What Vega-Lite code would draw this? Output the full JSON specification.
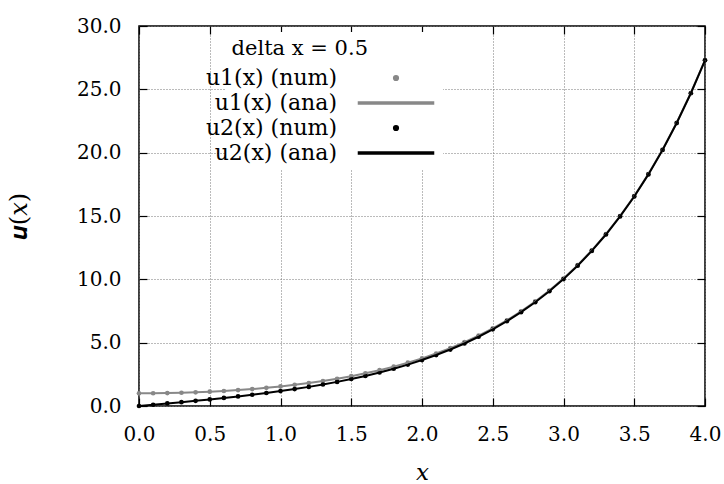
{
  "$schema": "https://vega.github.io/schema/vega-lite/v6.json",
  "width": 566,
  "height": 380,
  "autosize": {"type": "none"},
  "padding": {"left": 139, "top": 26, "right": 19, "bottom": 78},
  "background": "white",
  "config": {
    "view": {"stroke": "black", "strokeWidth": 1.5},
    "font": "DejaVu Serif",
    "axis": {
      "labelFont": "DejaVu Serif",
      "labelFontSize": 20,
      "labelColor": "black",
      "titleFont": "DejaVu Serif",
      "titleFontSize": 23,
      "titleColor": "black",
      "titleFontWeight": "normal",
      "tickColor": "black",
      "tickSize": -8,
      "tickWidth": 1.2,
      "domain": false,
      "gridColor": "#777777",
      "gridDash": [1, 2],
      "gridWidth": 1,
      "gridOpacity": 1
    }
  },
  "data": {
    "values": [
      {"x": 0.0, "u1n": 1.0000, "u1a": 1.0000, "u2n": 0.0000, "u2a": 0.0000},
      {"x": 0.1, "u1n": 1.0050, "u1a": 1.0050, "u2n": 0.1002, "u2a": 0.1002},
      {"x": 0.2, "u1n": 1.0201, "u1a": 1.0201, "u2n": 0.2013, "u2a": 0.2013},
      {"x": 0.3, "u1n": 1.0453, "u1a": 1.0453, "u2n": 0.3045, "u2a": 0.3045},
      {"x": 0.4, "u1n": 1.0811, "u1a": 1.0811, "u2n": 0.4108, "u2a": 0.4108},
      {"x": 0.5, "u1n": 1.1276, "u1a": 1.1276, "u2n": 0.5211, "u2a": 0.5211},
      {"x": 0.6, "u1n": 1.1855, "u1a": 1.1855, "u2n": 0.6367, "u2a": 0.6367},
      {"x": 0.7, "u1n": 1.2552, "u1a": 1.2552, "u2n": 0.7586, "u2a": 0.7586},
      {"x": 0.8, "u1n": 1.3374, "u1a": 1.3374, "u2n": 0.8881, "u2a": 0.8881},
      {"x": 0.9, "u1n": 1.4331, "u1a": 1.4331, "u2n": 1.0265, "u2a": 1.0265},
      {"x": 1.0, "u1n": 1.5431, "u1a": 1.5431, "u2n": 1.1752, "u2a": 1.1752},
      {"x": 1.1, "u1n": 1.6685, "u1a": 1.6685, "u2n": 1.3356, "u2a": 1.3356},
      {"x": 1.2, "u1n": 1.8107, "u1a": 1.8107, "u2n": 1.5095, "u2a": 1.5095},
      {"x": 1.3, "u1n": 1.9709, "u1a": 1.9709, "u2n": 1.6984, "u2a": 1.6984},
      {"x": 1.4, "u1n": 2.1509, "u1a": 2.1509, "u2n": 1.9043, "u2a": 1.9043},
      {"x": 1.5, "u1n": 2.3524, "u1a": 2.3524, "u2n": 2.1293, "u2a": 2.1293},
      {"x": 1.6, "u1n": 2.5775, "u1a": 2.5775, "u2n": 2.3756, "u2a": 2.3756},
      {"x": 1.7, "u1n": 2.8283, "u1a": 2.8283, "u2n": 2.6456, "u2a": 2.6456},
      {"x": 1.8, "u1n": 3.1075, "u1a": 3.1075, "u2n": 2.9422, "u2a": 2.9422},
      {"x": 1.9, "u1n": 3.4177, "u1a": 3.4177, "u2n": 3.2682, "u2a": 3.2682},
      {"x": 2.0, "u1n": 3.7622, "u1a": 3.7622, "u2n": 3.6269, "u2a": 3.6269},
      {"x": 2.1, "u1n": 4.1443, "u1a": 4.1443, "u2n": 4.0219, "u2a": 4.0219},
      {"x": 2.2, "u1n": 4.5679, "u1a": 4.5679, "u2n": 4.4571, "u2a": 4.4571},
      {"x": 2.3, "u1n": 5.0372, "u1a": 5.0372, "u2n": 4.9370, "u2a": 4.9370},
      {"x": 2.4, "u1n": 5.5569, "u1a": 5.5569, "u2n": 5.4662, "u2a": 5.4662},
      {"x": 2.5, "u1n": 6.1323, "u1a": 6.1323, "u2n": 6.0502, "u2a": 6.0502},
      {"x": 2.6, "u1n": 6.7690, "u1a": 6.7690, "u2n": 6.6947, "u2a": 6.6947},
      {"x": 2.7, "u1n": 7.4735, "u1a": 7.4735, "u2n": 7.4063, "u2a": 7.4063},
      {"x": 2.8, "u1n": 8.2527, "u1a": 8.2527, "u2n": 8.1919, "u2a": 8.1919},
      {"x": 2.9, "u1n": 9.1146, "u1a": 9.1146, "u2n": 9.0596, "u2a": 9.0596},
      {"x": 3.0, "u1n": 10.0677, "u1a": 10.0677, "u2n": 10.0179, "u2a": 10.0179},
      {"x": 3.1, "u1n": 11.1215, "u1a": 11.1215, "u2n": 11.0765, "u2a": 11.0765},
      {"x": 3.2, "u1n": 12.2866, "u1a": 12.2866, "u2n": 12.2459, "u2a": 12.2459},
      {"x": 3.3, "u1n": 13.5748, "u1a": 13.5748, "u2n": 13.5379, "u2a": 13.5379},
      {"x": 3.4, "u1n": 14.9987, "u1a": 14.9987, "u2n": 14.9654, "u2a": 14.9654},
      {"x": 3.5, "u1n": 16.5728, "u1a": 16.5728, "u2n": 16.5426, "u2a": 16.5426},
      {"x": 3.6, "u1n": 18.3128, "u1a": 18.3128, "u2n": 18.2855, "u2a": 18.2855},
      {"x": 3.7, "u1n": 20.2360, "u1a": 20.2360, "u2n": 20.2113, "u2a": 20.2113},
      {"x": 3.8, "u1n": 22.3616, "u1a": 22.3616, "u2n": 22.3394, "u2a": 22.3394},
      {"x": 3.9, "u1n": 24.7113, "u1a": 24.7113, "u2n": 24.6911, "u2a": 24.6911},
      {"x": 4.0, "u1n": 27.3082, "u1a": 27.3082, "u2n": 27.2899, "u2a": 27.2899}
    ]
  },
  "resolve": {"axis": {"x": "independent", "y": "independent"}},
  "layer": [
    {
      "transform": [{"fold": ["u1n", "u2n"], "as": ["s", "u"]}],
      "mark": {"type": "point", "filled": true, "opacity": 1, "size": 22},
      "encoding": {
        "x": {
          "field": "x", "type": "quantitative",
          "scale": {"domain": [0, 4], "nice": false, "zero": false},
          "axis": {
            "title": "x", "titleFontStyle": "italic", "titlePadding": 17,
            "values": [0, 0.5, 1, 1.5, 2, 2.5, 3, 3.5, 4],
            "format": ".1f", "grid": true, "labelPadding": 26,
            "labelFlush": false
          }
        },
        "y": {
          "field": "u", "type": "quantitative",
          "scale": {"domain": [0, 30], "nice": false},
          "axis": {
            "title": "𝒖(𝑥)", "titlePadding": 45, "titleFontSize": 24,
            "values": [0, 5, 10, 15, 20, 25, 30],
            "format": ".1f", "grid": true, "labelPadding": 26,
            "labelFlush": false
          }
        },
        "shape": {
          "field": "s", "type": "nominal",
          "scale": {"domain": ["u1n", "u1a", "u2n", "u2a"], "range": ["circle", "M-16,-0.45H16V0.45H-16Z", "circle", "M-16,-0.45H16V0.45H-16Z"]}
        },
        "color": {
          "field": "s", "type": "nominal",
          "scale": {"domain": ["u1n", "u1a", "u2n", "u2a"], "range": ["#888888", "#888888", "#000000", "#000000"]},
          "legend": {
            "orient": "none", "legendX": 87, "legendY": 6,
            "title": "delta x = 0.5",
            "titleFont": "DejaVu Serif", "titleFontSize": 21, "titleFontWeight": "normal", "titleColor": "black",
            "titleAnchor": "start", "titleAlign": "right", "titlePadding": 8,
            "labelFont": "DejaVu Serif", "labelFontSize": 22, "labelColor": "black",
            "labelAlign": "right", "labelOffset": -70, "labelLimit": 300,
            "labelExpr": "datum.label == 'u1n' ? 'u1(x) (num)' : datum.label == 'u1a' ? 'u1(x) (ana)' : datum.label == 'u2n' ? 'u2(x) (num)' : 'u2(x) (ana)'",
            "symbolSize": 22, "symbolOffset": 17, "rowPadding": 3,
            "fillColor": "white", "padding": 6
          }
        }
      }
    },
    {
      "transform": [{"fold": ["u1a", "u2a"], "as": ["s", "u"]}],
      "mark": {"type": "line", "strokeWidth": 2},
      "encoding": {
        "x": {
          "field": "x", "type": "quantitative",
          "axis": {
            "orient": "top", "labels": false, "title": null, "grid": false,
            "values": [0, 0.5, 1, 1.5, 2, 2.5, 3, 3.5, 4]
          }
        },
        "y": {
          "field": "u", "type": "quantitative",
          "axis": {
            "orient": "right", "labels": false, "title": null, "grid": false,
            "values": [0, 5, 10, 15, 20, 25, 30]
          }
        },
        "color": {"field": "s", "type": "nominal", "legend": null}
      }
    }
  ]
}
